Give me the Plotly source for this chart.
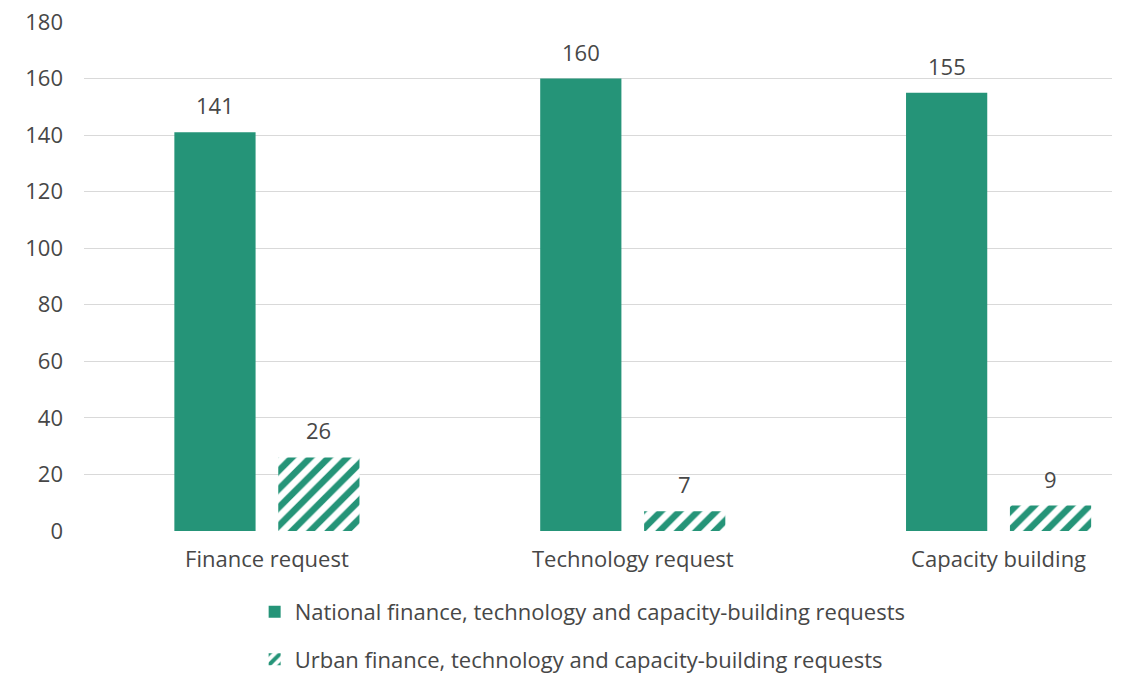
import plotly.graph_objects as go

categories = ["Finance request", "Technology request", "Capacity building"]
national = [141, 160, 155]
urban = [26, 7, 9]
series_names = ["National finance, technology and capacity-building requests",
                "Urban finance, technology and capacity-building requests"]
y_ticks = [0, 20, 40, 60, 80, 100, 120, 140, 160, 180]

GREEN = "#259478"
TEXT = "#474747"
FONT = "Open Sans"
FS = 22
xs = list(range(len(categories)))
W = 0.222
OFF1 = -0.253
OFF2 = 0.031

fig = go.Figure()
fig.add_trace(go.Bar(
    x=xs, y=national, name=series_names[0], width=W, offset=OFF1,
    marker=dict(color=GREEN, line=dict(width=0)), legend="legend", showlegend=True,
))
fig.add_trace(go.Bar(
    x=xs, y=urban, name=series_names[1], width=W, offset=OFF2,
    marker=dict(color=GREEN, line=dict(width=0),
                pattern=dict(shape="/", fgcolor=GREEN, bgcolor="white",
                             size=13, solidity=0.5, fillmode="replace", fgopacity=1)),
    legend="legend2", showlegend=True,
))

annotations = []
for i in xs:
    annotations.append(dict(x=i + OFF1 + W / 2, y=national[i], text=str(national[i]),
                            showarrow=False, yanchor="bottom", yshift=10,
                            font=dict(family=FONT, size=FS, color=TEXT)))
    annotations.append(dict(x=i + OFF2 + W / 2, y=urban[i], text=str(urban[i]),
                            showarrow=False, yanchor="bottom", yshift=10,
                            font=dict(family=FONT, size=FS, color=TEXT)))

fig.update_layout(
    width=1127, height=677,
    margin=dict(l=84, r=15, t=22, b=146, autoexpand=False),
    paper_bgcolor="white", plot_bgcolor="white",
    barmode="overlay", showlegend=True,
    font=dict(family=FONT, size=FS, color=TEXT),
    annotations=annotations,
    xaxis=dict(range=[-0.5, 2.31], tickmode="array", tickvals=xs, ticktext=categories,
               showgrid=False, showline=False, ticks="", zeroline=False,
               ticklabelstandoff=13, ticklabeloverflow="allow",
               tickfont=dict(family=FONT, size=FS, color=TEXT)),
    yaxis=dict(range=[0, 180], tickmode="array", tickvals=y_ticks,
               showgrid=True, gridcolor="#d9d9d9", gridwidth=1.3,
               zeroline=False, showline=False, ticks="", ticklabelstandoff=20,
               ticklabeloverflow="allow",
               tickfont=dict(family=FONT, size=FS, color=TEXT)),
    legend=dict(x=0.166, y=-0.118, xanchor="left", yanchor="top",
                font=dict(family=FONT, size=FS, color=TEXT), bgcolor="rgba(0,0,0,0)"),
    legend2=dict(x=0.166, y=-0.211, xanchor="left", yanchor="top",
                 font=dict(family=FONT, size=FS, color=TEXT), bgcolor="rgba(0,0,0,0)"),
)

fig.write_html("out.html", config={"displayModeBar": False},
               post_script="document.body.style.margin='0';")
